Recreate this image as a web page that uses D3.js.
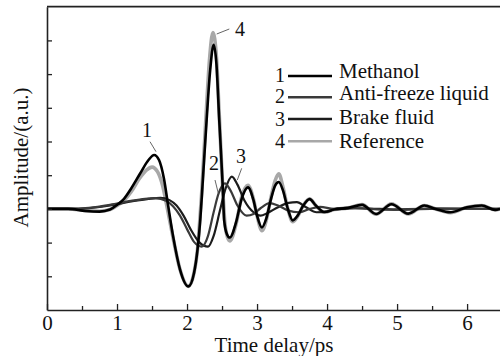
<!DOCTYPE html>
<html>
<head>
<meta charset="utf-8">
<script src="https://cdn.jsdelivr.net/npm/d3@7"></script>
<style>
  body { margin: 0; background: #fff; }
  svg text { font-family: "Liberation Serif", "Times New Roman", serif; fill: #111; }
</style>
</head>
<body>
<svg id="chart" width="500" height="356"></svg>
<script>
// values, [time in ps, amplitude in a.u.]
const methanol = [
  [0, 0], [0.3, 0], [0.55, -0.06], [0.75, -0.08], [0.9, -0.02], [1.0, 0.12], [1.1, 0.3],
  [1.2, 0.6], [1.33, 1.05], [1.45, 1.45], [1.53, 1.6], [1.6, 1.45], [1.67, 0.9], [1.73, 0.1],
  [1.8, -0.8], [1.9, -1.8], [2.02, -2.3], [2.1, -1.9], [2.15, -1.2], [2.19, -0.3], [2.22, 0.66],
  [2.28, 2.64], [2.33, 4.1], [2.38, 4.87], [2.42, 4.3], [2.46, 2.64], [2.51, 0.66], [2.53, -0.33],
  [2.57, -0.75], [2.61, -0.85], [2.7, -0.4], [2.78, 0.3], [2.87, 0.64], [2.95, 0.25], [3.0, -0.2],
  [3.07, -0.55], [3.13, -0.3], [3.2, 0.3], [3.26, 0.7], [3.31, 0.8], [3.37, 0.55], [3.44, 0.0],
  [3.51, -0.34], [3.58, -0.2], [3.66, 0.1], [3.75, 0.29], [3.84, 0.1], [3.96, -0.09], [4.1, -0.02],
  [4.3, 0.03], [4.5, 0.12], [4.7, -0.15], [4.92, 0.14], [5.16, -0.14], [5.39, 0.1], [5.55, 0],
  [5.76, -0.1], [6.0, 0.05], [6.21, 0.1], [6.4, -0.03], [6.47, 0]
];
const antiFreeze = [
  [0, 0], [0.3, 0], [0.6, 0.03], [0.9, 0.12], [1.2, 0.24], [1.4, 0.3], [1.55, 0.32], [1.7, 0.24],
  [1.8, 0.08], [1.9, -0.2], [2.0, -0.6], [2.1, -0.98], [2.21, -1.12], [2.3, -0.8], [2.38, -0.1],
  [2.45, 0.45], [2.54, 0.76], [2.62, 0.55], [2.72, 0.1], [2.85, -0.2], [2.95, -0.15], [3.05, 0.02],
  [3.18, 0.17], [3.3, 0.1], [3.45, -0.05], [3.6, -0.1], [3.75, 0], [3.9, 0.06], [4.1, 0],
  [4.4, 0.02], [4.8, -0.02], [5.5, 0.01], [6.47, 0]
];
const brakeFluid = [
  [0, 0], [0.3, 0], [0.6, 0.02], [0.9, 0.1], [1.2, 0.22], [1.45, 0.3], [1.62, 0.33], [1.75, 0.26],
  [1.85, 0.1], [1.95, -0.2], [2.05, -0.6], [2.18, -1.0], [2.3, -1.12], [2.38, -0.8], [2.47, -0.05],
  [2.55, 0.6], [2.64, 0.96], [2.72, 0.72], [2.82, 0.25], [2.95, -0.1], [3.05, -0.2], [3.15, -0.12],
  [3.3, 0.05], [3.45, 0.18], [3.57, 0.2], [3.7, 0.05], [3.85, -0.1], [4.0, -0.08], [4.15, 0.02],
  [4.5, 0.02], [5.0, -0.02], [5.6, 0.01], [6.47, 0]
];
const reference = [
  [0, 0], [0.3, 0], [0.55, -0.05], [0.75, -0.07], [0.9, -0.02], [1.0, 0.1], [1.1, 0.25],
  [1.2, 0.5], [1.32, 0.9], [1.42, 1.15], [1.5, 1.24], [1.58, 1.1], [1.65, 0.7], [1.72, 0.0],
  [1.8, -0.85], [1.9, -1.8], [2.02, -2.3], [2.1, -1.9], [2.15, -1.2], [2.18, -0.4], [2.21, 0.5],
  [2.27, 2.7], [2.32, 4.4], [2.37, 5.23], [2.42, 4.5], [2.46, 2.8], [2.51, 0.6], [2.54, -0.4],
  [2.58, -0.85], [2.61, -0.95], [2.7, -0.45], [2.78, 0.35], [2.87, 0.7], [2.95, 0.28], [3.0, -0.2],
  [3.07, -0.65], [3.13, -0.35], [3.2, 0.35], [3.26, 0.85], [3.31, 1.04], [3.37, 0.65], [3.44, 0.0],
  [3.51, -0.38], [3.58, -0.22], [3.66, 0.1], [3.75, 0.3], [3.84, 0.1], [3.96, -0.1], [4.1, -0.02],
  [4.3, 0.03], [4.5, 0.13], [4.7, -0.16], [4.92, 0.15], [5.16, -0.15], [5.39, 0.1], [5.55, 0],
  [5.76, -0.11], [6.0, 0.05], [6.21, 0.1], [6.4, -0.03], [6.47, 0]
];

const xTicks = [0, 1, 2, 3, 4, 5, 6];
const xMinorTicks = [0.5, 1.5, 2.5, 3.5, 4.5, 5.5];
const yTicks = [-2, -1, 0, 1, 2, 3, 4, 5];
const legendNames = ["Methanol", "Anti-freeze liquid", "Brake fluid", "Reference"];

const svg = d3.select("#chart");

const x = d3.scaleLinear().domain([0, 6.47]).range([47, 500]);
const y = d3.scaleLinear().domain([-3, 6]).range([310, 6.7]);

// curves, reference underneath
const series = [
  { data: reference, color: "#a8a8a8", width: 3.6 },
  { data: brakeFluid, color: "#1c1c1c", width: 2.2 },
  { data: antiFreeze, color: "#3a3a3a", width: 2.2 },
  { data: methanol, color: "#000", width: 2.6 }
];

const line = d3.line()
    .x(d => x(d[0]))
    .y(d => y(d[1]))
    .curve(d3.curveMonotoneX);

svg.append("g")
    .selectAll("path")
    .data(series)
    .enter().append("path")
    .attr("d", d => line(d.data))
    .attr("fill", "none")
    .attr("stroke", d => d.color)
    .attr("stroke-width", d => d.width)
    .attr("stroke-linejoin", "round");

// axes
const xAxis = svg.append("g")
    .attr("transform", `translate(0,${y(-3)})`)
    .call(d3.axisBottom(x).tickValues(xTicks).tickSizeInner(-6).tickSizeOuter(0).tickFormat(d3.format("d")));
xAxis.selectAll("text")
    .attr("y", 20).attr("dy", 0)
    .style("font-size", "21px");

svg.append("g")
    .attr("transform", `translate(0,${y(-3)})`)
    .call(d3.axisBottom(x).tickValues(xMinorTicks).tickSizeInner(-4).tickSizeOuter(0).tickFormat(""))
    .select(".domain").remove();

svg.append("g")
    .attr("transform", `translate(${x(0)},0)`)
    .call(d3.axisLeft(y).tickValues(yTicks).tickSizeInner(-5).tickSizeOuter(0).tickFormat(""));

svg.selectAll(".domain").attr("stroke", "#222").attr("stroke-width", 1.6);
svg.selectAll(".tick line").attr("stroke", "#222").attr("stroke-width", 1.3);

// top frame line
svg.append("line")
    .attr("x1", x(0)).attr("x2", 500)
    .attr("y1", y(6)).attr("y2", y(6))
    .attr("stroke", "#222").attr("stroke-width", 1.8);

// axis titles
svg.append("text")
    .attr("x", 274).attr("y", 352)
    .attr("text-anchor", "middle")
    .style("font-size", "21px")
    .text("Time delay/ps");

svg.append("text")
    .attr("transform", "translate(28,157.5) rotate(-90)")
    .attr("text-anchor", "middle")
    .style("font-size", "21px")
    .text("Amplitude/(a.u.)");

// legend
const legend = svg.append("g");
const legendRows = [
  { lineY: 76, numY: 81.7, textY: 78 },
  { lineY: 97.3, numY: 103, textY: 100 },
  { lineY: 119, numY: 126, textY: 124 },
  { lineY: 141.3, numY: 148, textY: 147.5 }
];
const legendColors = ["#000", "#3a3a3a", "#1c1c1c", "#a8a8a8"];

legendNames.forEach((name, i) => {
    const row = legendRows[i];
    legend.append("text")
        .attr("x", 285).attr("y", row.numY)
        .attr("text-anchor", "end")
        .style("font-size", "20px")
        .text(i + 1);
    legend.append("line")
        .attr("x1", 288).attr("x2", 332)
        .attr("y1", row.lineY).attr("y2", row.lineY)
        .attr("stroke", legendColors[i])
        .attr("stroke-width", 2.4);
    legend.append("text")
        .attr("x", 339).attr("y", row.textY)
        .style("font-size", "21px")
        .text(name);
});

// curve callouts
const callouts = [
  { label: "1", tx: 147, ty: 137, x1: 150, y1: 141.7, x2: 156, y2: 151.7 },
  { label: "2", tx: 214, ty: 170, x1: 215, y1: 180, x2: 218.3, y2: 193.3 },
  { label: "3", tx: 241, ty: 163, x1: 241.7, y1: 168.3, x2: 237.3, y2: 180 },
  { label: "4", tx: 240, ty: 36, x1: 229.3, y1: 29, x2: 216.7, y2: 34 }
];
callouts.forEach(c => {
    svg.append("line")
        .attr("x1", c.x1).attr("y1", c.y1)
        .attr("x2", c.x2).attr("y2", c.y2)
        .attr("stroke", "#555").attr("stroke-width", 0.9);
    svg.append("text")
        .attr("x", c.tx).attr("y", c.ty)
        .attr("text-anchor", "middle")
        .style("font-size", "20px")
        .text(c.label);
});
</script>
</body>
</html>
